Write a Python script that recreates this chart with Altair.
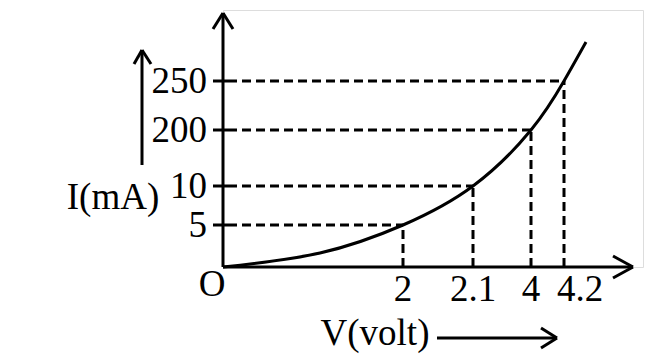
import altair as alt
import pandas as pd

# Schematic values (drawing units)
v_labels = ["2", "2.1", "4", "4.2"]
v_pos = [180, 250, 308, 341]
i_labels = ["5", "10", "200", "250"]
i_pos = [42, 81, 137, 186]
curve_x = [0, 97, 180, 250, 308, 341, 363]
curve_y = [0, 14, 42, 81, 137, 186, 225]

FONT = "Liberation Serif"
FS = 37
W, H = 420, 257
xs = alt.Scale(domain=[0, W], nice=False, zero=False)
ys = alt.Scale(domain=[0, H], nice=False, zero=False)


def rules(rows, dash=None, sw=3):
    df = pd.DataFrame(rows, columns=["x", "y", "x2", "y2"])
    kw = dict(color="black", strokeWidth=sw, strokeCap="butt")
    if dash:
        kw["strokeDash"] = dash
    return alt.Chart(df).mark_rule(**kw).encode(
        x=alt.X("x:Q", scale=xs, axis=None),
        y=alt.Y("y:Q", scale=ys, axis=None),
        x2="x2:Q", y2="y2:Q")


def text(df, **kw):
    return alt.Chart(df).mark_text(font=FONT, fontSize=FS, color="black", **kw).encode(
        x=alt.X("x:Q", scale=xs, axis=None),
        y=alt.Y("y:Q", scale=ys, axis=None),
        text="t:N")


# axes with arrowheads
ax_rows = [
    (0, 0, 0, 254),            # y axis
    (0, 0, 410, 0),            # x axis
    (0, 254, -10, 238), (0, 254, 10, 238),      # y arrow head
    (410, 0, 390, 11), (410, 0, 390, -11),      # x arrow head
    (-81, 102, -81, 217),                        # I arrow
    (-81, 217, -89, 203), (-81, 217, -72, 203),
    (214, -71, 334, -71),                        # V arrow
    (334, -71, 318, -61), (334, -71, 318, -81),
]
# y ticks
tick_rows = [(-10, p, 5, p) for p in i_pos]

# dashed guides
dash_rows = []
for xp, yp in zip(v_pos, i_pos):
    dash_rows.append((5, yp, xp, yp))
    dash_rows.append((xp, 0, xp, yp))

curve = alt.Chart(pd.DataFrame({"x": curve_x, "y": curve_y})).mark_line(
    color="black", strokeWidth=3, interpolate="natural").encode(
    x=alt.X("x:Q", scale=xs, axis=None),
    y=alt.Y("y:Q", scale=ys, axis=None))

ylab = text(pd.DataFrame({"x": [-16] * 4, "y": i_pos, "t": i_labels}),
            align="right", baseline="middle", dy=1)
xdf = pd.DataFrame({"x": v_pos, "y": [-23] * 4, "t": v_labels})
xlab_a = text(xdf[xdf.t != "4.2"], align="center", baseline="middle")
xlab_b = text(xdf[xdf.t == "4.2"], align="center", baseline="middle", dx=16)
others = text(pd.DataFrame({"x": [-11, -110, 152], "y": [-18, 69, -67],
                            "t": ["O", "I(mA)", "V(volt)"]}),
              align="center", baseline="middle")

chart = alt.layer(
    rules(dash_rows, dash=[9, 5]),
    rules(ax_rows), rules(tick_rows),
    curve, ylab, xlab_a, xlab_b, others,
).properties(
    width=W, height=H,
    autosize=alt.AutoSizeParams(type="none"),
    padding={"left": 223, "top": 10, "right": 21, "bottom": 92},
).configure_view(stroke=None).configure(background="white")

chart.save("out.html", embed_options={"renderer": "svg", "actions": False})
